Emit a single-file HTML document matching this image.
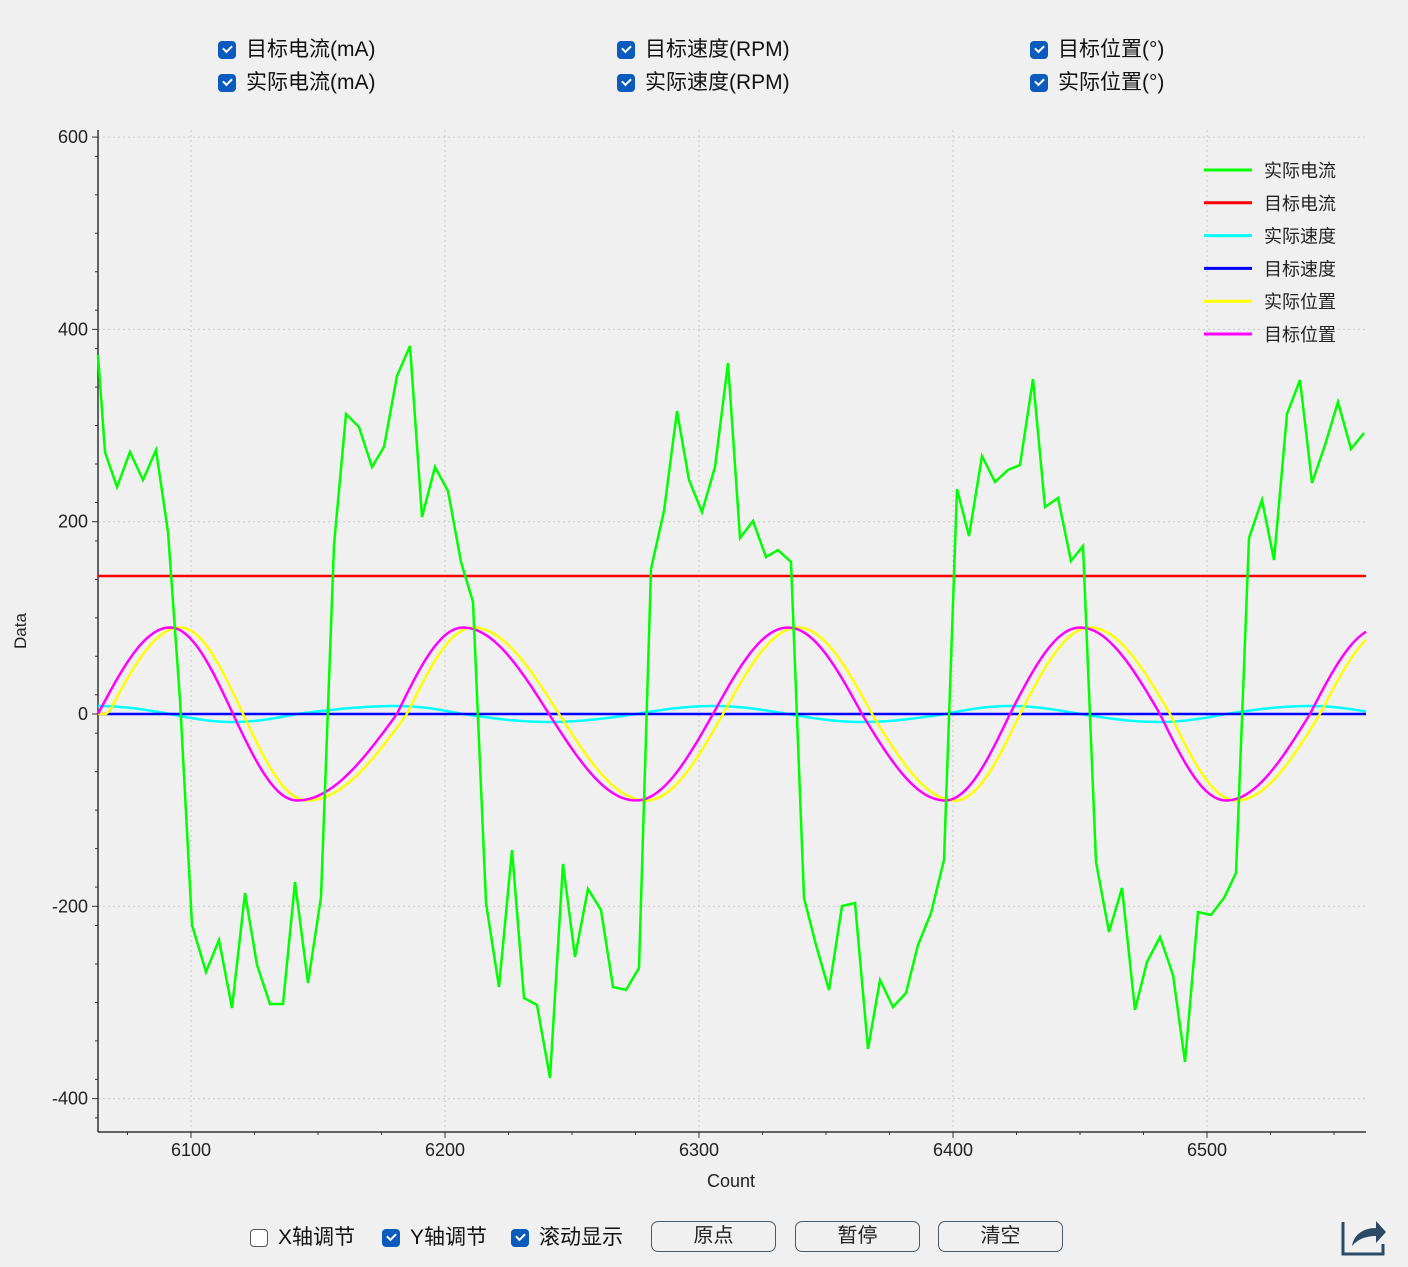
<!DOCTYPE html>
<html><head><meta charset="utf-8"><style>
body{margin:0;width:1408px;height:1267px;background:#f0f0f0;overflow:hidden;font-family:"Liberation Sans","Noto Sans CJK SC",sans-serif;position:relative}
.cb{position:absolute;font-size:21px;color:#111;height:26px;line-height:26px;white-space:nowrap}
.cb i{display:inline-block;width:18px;height:18px;background:#0a5bbd;border-radius:4px;vertical-align:-3px;margin-right:10px;position:relative}
.cb i:after{content:"";position:absolute;left:5px;top:4px;width:7px;height:4px;border-left:2px solid #fff;border-bottom:2px solid #fff;transform:rotate(-45deg)}
.cb i.off{background:#fff;border:1.5px solid #555;width:16px;height:16px}
.cb i.off:after{display:none}
.btn{position:absolute;top:1221px;width:125px;height:31px;border:1.5px solid #4a5a66;border-radius:7px;box-sizing:border-box;text-align:center;line-height:29px;font-size:20px;color:#222;background:#f0f0f0}
</style></head><body>
<div class="cb" style="left:218px;top:37px"><i></i>目标电流(mA)</div>
<div class="cb" style="left:218px;top:70px"><i></i>实际电流(mA)</div>
<div class="cb" style="left:617px;top:37px"><i></i>目标速度(RPM)</div>
<div class="cb" style="left:617px;top:70px"><i></i>实际速度(RPM)</div>
<div class="cb" style="left:1030px;top:37px"><i></i>目标位置(°)</div>
<div class="cb" style="left:1030px;top:70px"><i></i>实际位置(°)</div>
<div class="cb" style="left:250px;top:1225px"><i class="off"></i>X轴调节</div>
<div class="cb" style="left:382px;top:1225px"><i></i>Y轴调节</div>
<div class="cb" style="left:511px;top:1225px"><i></i>滚动显示</div>
<div class="btn" style="left:651px">原点</div>
<div class="btn" style="left:795px">暂停</div>
<div class="btn" style="left:938px">清空</div>
<svg id="s" width="1408" height="1267" style="position:absolute;left:0;top:0" font-family="Liberation Sans, sans-serif"></svg>
<script>
var s=document.getElementById('s'),h='';
function L(x1,y1,x2,y2,c,w,d){h+='<line x1="'+x1+'" y1="'+y1+'" x2="'+x2+'" y2="'+y2+'" stroke="'+c+'" stroke-width="'+w+'"'+(d?' stroke-dasharray="'+d+'"':'')+'/>';}
function T(x,y,t,a,sz){h+='<text x="'+x+'" y="'+y+'" font-size="'+(sz||18)+'" text-anchor="'+(a||'middle')+'" fill="#222">'+t+'</text>';}
var X=function(v){return 191+(v-6100)*2.54},Y=function(v){return 714-v*0.9615};
for(var v=6100;v<=6500;v+=100){L(X(v),130,X(v),1132,'#c8c8c8',1,'2,3');L(X(v),1132,X(v),1138,'#333',1);T(X(v),1156,v);}
for(var v=6075;v<6560;v+=25){L(X(v),1132,X(v),1135,'#333',1);}
for(var v=-400;v<=600;v+=200){L(98,Y(v),1366,Y(v),'#c8c8c8',1,'2,3');L(92,Y(v),98,Y(v),'#333',1);T(88,Y(v)+6,v,'end');}
for(var v=-420;v<=600;v+=40){L(95,Y(v),98,Y(v),'#333',1);}
L(98,130,98,1132,'#333',1.5);L(98,1132,1366,1132,'#333',1.5);
T(731,1187,'Count');h+='<text x="26" y="631" font-size="17" transform="rotate(-90 26 631)" text-anchor="middle" fill="#222">Data</text>';
var a=[[98,0],[170,90],[233,180],[297,270],[397,360],[463,450],[549,540],[636,630],[713,720],[788,810],[862,900],[945,990],[1010,1080],[1080,1170],[1160,1260],[1226,1350],[1310,1440],[1380,1530]];
function ph(x){for(var i=0;i<a.length-1;i++)if(x<=a[i+1][0])return a[i][1]+(x-a[i][0])/(a[i+1][0]-a[i][0])*(a[i+1][1]-a[i][1]);return 1530;}
function P(f,c){var p=[];for(var x=98;x<=1366;x+=4)p.push(x+','+f(x).toFixed(1));h+='<polyline points="'+p.join(' ')+'" fill="none" stroke="'+c+'" stroke-width="2.5"/>';}
P(function(x){return 706+8*(1-Math.cos(ph(x)*Math.PI/180));},'#00ffff');
L(98,714,1366,714,'#0000ff',2.5);L(98,576,1366,576,'#ff0000',2.5);
P(function(x){return 714-86.5*Math.sin(ph(Math.max(98,x-10))*Math.PI/180);},'#ffff00');
P(function(x){return 714-86.5*Math.sin(ph(x)*Math.PI/180);},'#ff00ff');
var g="98,355 105,452 117,487 130,452 143,480 156,450 168,532 180,700 192,925 206,972 219,940 232,1008 245,893 257,965 270,1004 283,1004 295,882 308,983 321,897 334,545 346,414 359,427 372,467 384,447 397,376 410,346 422,517 435,467 448,491 461,562 473,602 486,903 499,987 512,850 524,998 537,1005 550,1078 563,864 575,957 588,889 601,910 613,987 626,990 639,968 651,569 664,511 677,411 689,480 702,512 715,467 728,363 740,538 753,521 766,557 778,550 791,562 804,898 816,945 829,990 842,906 855,903 868,1049 880,980 893,1007 906,993 918,945 931,913 944,860 957,489 969,536 982,456 995,482 1008,470 1020,465 1033,379 1045,507 1058,498 1071,561 1083,546 1096,862 1109,932 1122,888 1135,1010 1147,962 1160,937 1173,975 1185,1062 1198,912 1211,915 1224,898 1236,873 1249,538 1262,500 1274,560 1287,414 1300,380 1312,483 1325,445 1338,402 1351,449 1364,433";
h+='<polyline points="'+g+'" fill="none" stroke="#00ff00" stroke-width="2.5"/>';
var lg=[['实际电流','#00ff00'],['目标电流','#ff0000'],['实际速度','#00ffff'],['目标速度','#0000ff'],['实际位置','#ffff00'],['目标位置','#ff00ff']];
lg.forEach(function(e,i){var y=170+i*32.8;L(1204,y,1252,y,e[1],3);h+='<text x="1264" y="'+(y+7)+'" font-size="18" font-family="Noto Sans CJK SC,sans-serif" fill="#222">'+e[0]+'</text>';});
h+='<path d="M1343 1222v32h40v-10" fill="none" stroke="#2a4a66" stroke-width="3"/><path d="M1352 1246c2-12 12-18 24-18v-7l10 11-10 11v-7c-10 0-18 3-24 10z" fill="#2a4a66"/>';
s.innerHTML=h;
</script>
</body></html>
